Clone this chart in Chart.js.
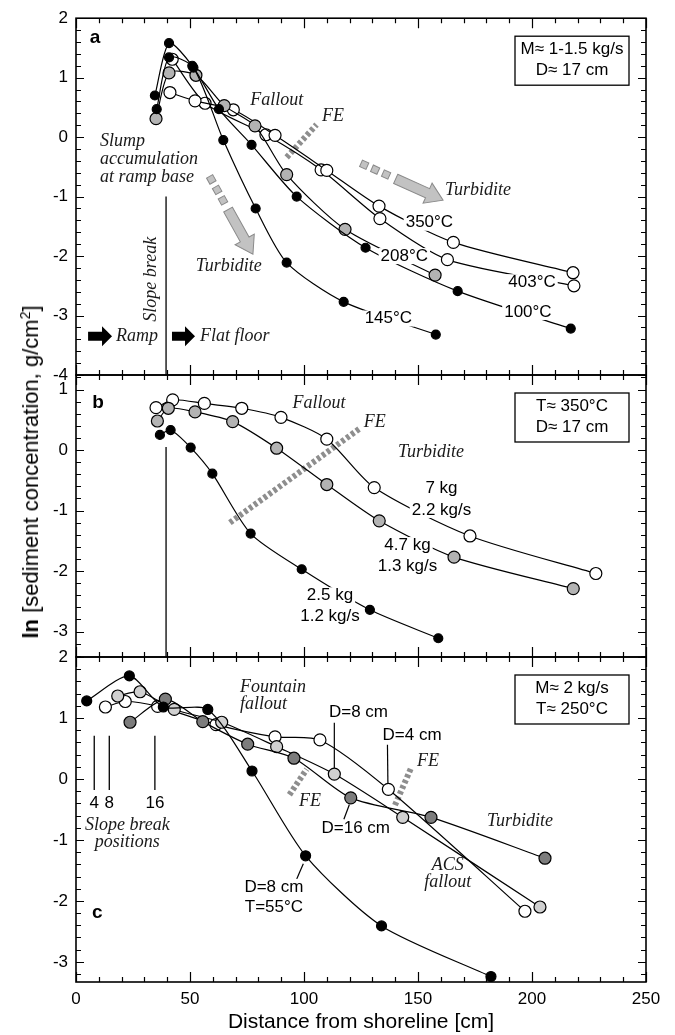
<!DOCTYPE html>
<html>
<head>
<meta charset="utf-8">
<script src="https://cdn.jsdelivr.net/npm/chart.js@4.4.1/dist/chart.umd.min.js"></script>
<style>
  html, body { margin: 0; padding: 0; background: #fff; }
  #wrap { position: relative; width: 675px; height: 1035px; overflow: hidden; background: #fff; }
  canvas { position: absolute; left: 0; }
  #ytitle {
    position: absolute; left: 31px; top: 472px;
    transform: translate(-50%, -50%) rotate(-90deg);
    font: 22px "Liberation Sans", Arial, sans-serif; white-space: nowrap; color: #000;
  }
  #ytitle sup { font-size: 14px; vertical-align: 8px; line-height: 0; }
</style>
</head>
<body>
<div id="wrap">
  <canvas id="pa" width="675" height="395" style="top:0px"></canvas>
  <canvas id="pb" width="675" height="322" style="top:355px"></canvas>
  <canvas id="pc" width="675" height="398" style="top:637px"></canvas>
  <div id="ytitle"><b>ln</b> [sediment concentration, g/cm<sup>2</sup>]</div>
</div>
<script>
const SANS = '"Liberation Sans", Arial, sans-serif';
const SERIF = '"Liberation Serif", "Times New Roman", serif';

// axis ticks
const xTicks = [0, 50, 100, 150, 200, 250];
const yTicksA = [2, 1, 0, -1, -2, -3, -4];
const yTicksB = [1, 0, -1, -2, -3];
const yTicksC = [2, 1, 0, -1, -2, -3];

// panel a : M ~ 1-1.5 kg/s, D ~ 17 cm
const a145x = [35.4, 40.8, 51.5, 64.6, 78.8, 92.4, 117.4, 157.8];
const a145y = [0.47, 1.34, 1.17, -0.05, -1.20, -2.11, -2.77, -3.32];
const a100x = [34.6, 40.8, 51.0, 62.7, 77.0, 96.8, 127.0, 167.4, 217.0];
const a100y = [0.70, 1.58, 1.20, 0.47, -0.13, -1.00, -1.86, -2.59, -3.22];
const a208x = [35.1, 40.8, 52.6, 65.0, 78.5, 92.4, 118.0, 157.5];
const a208y = [0.31, 1.08, 1.04, 0.53, 0.19, -0.63, -1.55, -2.32];
const a350x = [41.2, 52.2, 69.0, 87.3, 110.0, 132.9, 165.5, 218.0];
const a350y = [0.75, 0.61, 0.46, 0.03, -0.56, -1.16, -1.77, -2.28];
const a403x = [42.2, 56.6, 83.3, 107.5, 133.3, 162.9, 218.4];
const a403y = [1.31, 0.57, 0.04, -0.55, -1.37, -2.06, -2.50];

// panel b : T ~ 350 C, D ~ 17 cm
const b7x = [35.1, 42.4, 56.3, 72.7, 89.9, 110.0, 130.8, 172.8, 228.0];
const b7y = [0.70, 0.83, 0.77, 0.69, 0.54, 0.18, -0.62, -1.42, -2.04];
const b47x = [35.7, 40.5, 52.2, 68.7, 88.0, 110.0, 133.0, 165.8, 218.1];
const b47y = [0.48, 0.69, 0.63, 0.47, 0.03, -0.57, -1.17, -1.77, -2.29];
const b25x = [36.8, 41.5, 50.3, 59.8, 76.6, 99.0, 128.9, 158.9];
const b25y = [0.25, 0.33, 0.04, -0.39, -1.38, -1.97, -2.64, -3.11];

// panel c : M ~ 2 kg/s, T ~ 250 C
const c55x = [4.7, 23.4, 38.3, 57.8, 77.2, 100.7, 134.0, 182.0];
const c55y = [1.28, 1.69, 1.18, 1.14, 0.13, -1.26, -2.41, -3.24];
const c8x = [18.3, 28.1, 43.1, 63.9, 88.0, 113.3, 143.3, 203.5];
const c8y = [1.36, 1.43, 1.14, 0.93, 0.53, 0.08, -0.63, -2.10];
const c4x = [12.9, 21.6, 35.8, 61.4, 87.3, 107.0, 137.0, 196.9];
const c4y = [1.18, 1.27, 1.19, 0.89, 0.69, 0.64, -0.17, -2.17];
const c16x = [23.7, 39.2, 55.6, 75.3, 95.6, 120.5, 155.7, 205.7];
const c16y = [0.93, 1.31, 0.94, 0.57, 0.34, -0.31, -0.63, -1.30];

// slope break positions in panel c
const slopeBreakX = [8, 14.6, 34.6];
const slopeBreakLabels = ['4', '8', '16'];

// annotations, anchored in data coordinates
const decorations = {
  pa: {
    letter: {t: 'a', x: 8.3, y: 1.67},
    box: ['M\u2248 1-1.5 kg/s', 'D\u2248 17 cm'],
    italic: [
      {t: 'Fallout', x: 88, y: 0.62},
      {t: 'FE', x: 112.7, y: 0.35},
      {t: 'Slump', x: 10.5, y: -0.07, align: 'left'},
      {t: 'accumulation', x: 10.5, y: -0.38, align: 'left'},
      {t: 'at ramp base', x: 10.5, y: -0.68, align: 'left'},
      {t: 'Turbidite', x: 67, y: -2.17},
      {t: 'Turbidite', x: 161.8, y: -0.9, align: 'left'},
      {t: 'Ramp', x: 17.5, y: -3.35, align: 'left'},
      {t: 'Flat floor', x: 54.4, y: -3.35, align: 'left'}
    ],
    rotated: [{t: 'Slope break', x: 33.2, y: -2.39}],
    labels: [
      {t: ['350\u00b0C'], x: 155, y: [-1.44]},
      {t: ['208\u00b0C'], x: 144, y: [-2.0]},
      {t: ['403\u00b0C'], x: 200, y: [-2.44]},
      {t: ['100\u00b0C'], x: 198.2, y: [-2.94]},
      {t: ['145\u00b0C'], x: 137, y: [-3.05]}
    ],
    dashes: [[92.4, -0.34, 105.5, 0.21]],
    vlines: [[39.5, -1.0, -4]],
    turbArrows: [[58.6, -0.66, 77.6, -1.97], [125.0, -0.44, 161, -1.06]],
    blockArrows: [[5.3, 15.8, -3.35], [42.1, 52.2, -3.35]],
    leaders: []
  },
  pb: {
    letter: {t: 'b', x: 9.7, y: 0.78},
    box: ['T\u2248 350\u00b0C', 'D\u2248 17 cm'],
    italic: [
      {t: 'Fallout', x: 106.6, y: 0.78},
      {t: 'FE', x: 131, y: 0.46},
      {t: 'Turbidite', x: 155.7, y: -0.03}
    ],
    rotated: [],
    labels: [
      {t: ['7 kg', '2.2 kg/s'], x: 160.3, y: [-0.63, -0.99]},
      {t: ['4.7 kg', '1.3 kg/s'], x: 145.4, y: [-1.57, -1.92]},
      {t: ['2.5 kg', '1.2 kg/s'], x: 111.4, y: [-2.40, -2.74]}
    ],
    dashes: [[67.5, -1.2, 124.6, 0.36]],
    vlines: [[39.5, 0.05, -3.42]],
    turbArrows: [],
    blockArrows: [],
    leaders: []
  },
  pc: {
    letter: {t: 'c', x: 9.3, y: -2.19},
    box: ['M\u2248 2 kg/s', 'T\u2248 250\u00b0C'],
    italic: [
      {t: 'Fountain', x: 71.9, y: 1.5, align: 'left'},
      {t: 'fallout', x: 71.9, y: 1.22, align: 'left'},
      {t: 'FE', x: 102.6, y: -0.37},
      {t: 'FE', x: 154.4, y: 0.29},
      {t: 'Turbidite', x: 194.7, y: -0.70},
      {t: 'ACS', x: 163, y: -1.42},
      {t: 'fallout', x: 163, y: -1.70},
      {t: 'Slope break', x: 22.5, y: -0.76},
      {t: 'positions', x: 22.5, y: -1.04}
    ],
    rotated: [],
    labels: [
      {t: ['D=8 cm'], x: 123.9, y: [1.09]},
      {t: ['D=4 cm'], x: 147.4, y: [0.72]},
      {t: ['D=16 cm'], x: 122.7, y: [-0.81]},
      {t: ['D=8 cm', 'T=55\u00b0C'], x: 86.8, y: [-1.77, -2.10]}
    ],
    dashes: [[93.6, -0.26, 101.2, 0.16], [139.9, -0.43, 147.2, 0.20]],
    vlines: slopeBreakX.map(x => [x, 0.71, -0.18]),
    ticksText: slopeBreakX.map((x, i) => ({t: slopeBreakLabels[i], x: x, y: -0.40})),
    turbArrows: [],
    blockArrows: [],
    leaders: [[113.3, 0.92, 113.3, 0.18], [136.6, 0.56, 136.8, -0.07], [119.9, -0.42, 117.5, -0.66], [99.7, -1.39, 96.8, -1.64]]
  }
};

function drawTurbArrow(ctx, x0, y0, x1, y1) {
  const L = Math.hypot(x1 - x0, y1 - y0);
  ctx.save();
  ctx.translate(x0, y0);
  ctx.rotate(Math.atan2(y1 - y0, x1 - x0));
  ctx.fillStyle = '#c2c2c2';
  ctx.strokeStyle = '#8a8a8a';
  ctx.lineWidth = 1;
  for (let i = 0; i < 3; i++) {
    ctx.fillRect(i * 12, -3.5, 7, 7);
    ctx.strokeRect(i * 12, -3.5, 7, 7);
  }
  const s0 = 38, hl = 17, sw = 5, hw = 11;
  ctx.beginPath();
  ctx.moveTo(s0, -sw); ctx.lineTo(L - hl, -sw); ctx.lineTo(L - hl, -hw);
  ctx.lineTo(L, 0); ctx.lineTo(L - hl, hw); ctx.lineTo(L - hl, sw); ctx.lineTo(s0, sw);
  ctx.closePath();
  ctx.fill(); ctx.stroke();
  ctx.restore();
}

function drawBlockArrow(ctx, x0, x1, y) {
  const hl = 10, sw = 4.5, hw = 10;
  ctx.save();
  ctx.fillStyle = '#000';
  ctx.beginPath();
  ctx.moveTo(x0, y - sw); ctx.lineTo(x1 - hl, y - sw); ctx.lineTo(x1 - hl, y - hw);
  ctx.lineTo(x1, y); ctx.lineTo(x1 - hl, y + hw); ctx.lineTo(x1 - hl, y + sw); ctx.lineTo(x0, y + sw);
  ctx.closePath();
  ctx.fill();
  ctx.restore();
}

const decorPlugin = {
  id: 'decor',
  beforeDatasetsDraw(chart) {
    const d = decorations[chart.canvas.id];
    const ctx = chart.ctx;
    const X = v => chart.scales.x.getPixelForValue(v);
    const Y = v => chart.scales.y.getPixelForValue(v);
    ctx.save();
    // slope break lines
    ctx.strokeStyle = '#000';
    ctx.lineWidth = 1.3;
    d.vlines.forEach(([x, y0, y1]) => {
      ctx.beginPath();
      ctx.moveTo(X(x), Y(y0));
      ctx.lineTo(X(x), Y(y1));
      ctx.stroke();
    });
    // FE dashed lines
    ctx.strokeStyle = '#8e8e8e';
    ctx.lineWidth = 6;
    ctx.setLineDash([3.5, 2.5]);
    d.dashes.forEach(([x0, y0, x1, y1]) => {
      ctx.beginPath();
      ctx.moveTo(X(x0), Y(y0));
      ctx.lineTo(X(x1), Y(y1));
      ctx.stroke();
    });
    ctx.setLineDash([]);
    d.turbArrows.forEach(([x0, y0, x1, y1]) => drawTurbArrow(ctx, X(x0), Y(y0), X(x1), Y(y1)));
    d.blockArrows.forEach(([x0, x1, y]) => drawBlockArrow(ctx, X(x0), X(x1), Y(y)));
    ctx.restore();
  },
  afterDatasetsDraw(chart) {
    const d = decorations[chart.canvas.id];
    const ctx = chart.ctx;
    const a = chart.chartArea;
    const X = v => chart.scales.x.getPixelForValue(v);
    const Y = v => chart.scales.y.getPixelForValue(v);
    ctx.save();
    ctx.textBaseline = 'middle';

    // leader lines
    ctx.strokeStyle = '#000';
    ctx.lineWidth = 1.2;
    d.leaders.forEach(([x0, y0, x1, y1]) => {
      ctx.beginPath();
      ctx.moveTo(X(x0), Y(y0));
      ctx.lineTo(X(x1), Y(y1));
      ctx.stroke();
    });

    // curve labels, cut into the lines
    ctx.font = '17px ' + SANS;
    ctx.textAlign = 'center';
    d.labels.forEach(l => {
      l.t.forEach((t, i) => {
        const w = ctx.measureText(t).width;
        const px = X(l.x), py = Y(l.y[i]);
        ctx.fillStyle = '#fff';
        ctx.fillRect(px - w / 2 - 2, py - 8, w + 4, 16);
        ctx.fillStyle = '#000';
        ctx.fillText(t, px, py);
      });
    });
    (d.ticksText || []).forEach(l => ctx.fillText(l.t, X(l.x), Y(l.y)));

    // italic serif notes
    ctx.font = 'italic 18px ' + SERIF;
    ctx.fillStyle = '#1a1a1a';
    d.italic.forEach(l => {
      ctx.textAlign = l.align || 'center';
      ctx.fillText(l.t, X(l.x), Y(l.y));
    });
    d.rotated.forEach(l => {
      ctx.save();
      ctx.translate(X(l.x), Y(l.y));
      ctx.rotate(-Math.PI / 2);
      ctx.textAlign = 'center';
      ctx.fillText(l.t, 0, 0);
      ctx.restore();
    });

    // panel letter
    ctx.fillStyle = '#000';
    ctx.font = 'bold 19px ' + SANS;
    ctx.textAlign = 'center';
    ctx.fillText(d.letter.t, X(d.letter.x), Y(d.letter.y));

    // info box
    const bw = 114, bh = 49, bx = a.right - 17 - bw, by = a.top + 18;
    ctx.fillStyle = '#fff';
    ctx.fillRect(bx, by, bw, bh);
    ctx.strokeStyle = '#000';
    ctx.lineWidth = 1.3;
    ctx.strokeRect(bx, by, bw, bh);
    ctx.fillStyle = '#000';
    ctx.font = '17px ' + SANS;
    ctx.fillText(d.box[0], bx + bw / 2, by + 13);
    ctx.fillText(d.box[1], bx + bw / 2, by + 34);

    // frame and inward ticks
    ctx.lineWidth = 1.6;
    ctx.strokeRect(a.left, a.top, a.right - a.left, a.bottom - a.top);
    ctx.lineWidth = 1.2;
    ctx.beginPath();
    for (let v = 0; v <= 250; v += 10) {
      const p = Math.round(X(v)) + 0.5;
      const len = v % 50 === 0 ? 10 : 5;
      ctx.moveTo(p, a.top); ctx.lineTo(p, a.top + len);
      ctx.moveTo(p, a.bottom); ctx.lineTo(p, a.bottom - len);
    }
    const ys = chart.scales.y;
    const lo = Math.ceil(ys.min * 5 - 1e-6), hi = Math.floor(ys.max * 5 + 1e-6);
    for (let k = lo; k <= hi; k++) {
      const p = Math.round(Y(k / 5)) + 0.5;
      const len = k % 5 === 0 ? 8 : 5;
      ctx.moveTo(a.left, p); ctx.lineTo(a.left + len, p);
      ctx.moveTo(a.right, p); ctx.lineTo(a.right - len, p);
    }
    ctx.stroke();
    ctx.restore();
  }
};
Chart.register(decorPlugin);

function series(xs, ys, fill, r) {
  return {
    data: xs.map((x, i) => ({x: x, y: ys[i]})),
    borderColor: '#000',
    borderWidth: 1.2,
    pointBackgroundColor: fill,
    pointBorderColor: '#000',
    pointBorderWidth: 1.2,
    pointRadius: r,
    tension: 0.25,
    fill: false
  };
}

function makePanel(id, datasets, yMin, yMax, yTicks, padTop, padBottom, showX) {
  return new Chart(document.getElementById(id), {
    type: 'line',
    data: {datasets: datasets},
    options: {
      responsive: false,
      animation: false,
      events: [],
      layout: {padding: {left: 0, right: 29, top: padTop, bottom: padBottom}},
      plugins: {legend: {display: false}, tooltip: {enabled: false}},
      scales: {
        x: {
          type: 'linear', min: 0, max: 250, display: showX,
          grid: {display: false, drawTicks: false},
          border: {display: false},
          afterBuildTicks: s => { s.ticks = xTicks.map(v => ({value: v})); },
          afterFit: s => { s.height = showX ? 53 : 0; },
          ticks: {font: {family: SANS, size: 17}, color: '#000', padding: 7, maxRotation: 0, autoSkip: false},
          title: {display: showX, text: 'Distance from shoreline [cm]', font: {family: SANS, size: 21}, color: '#000', padding: {top: 0, bottom: 0}}
        },
        y: {
          type: 'linear', min: yMin, max: yMax,
          grid: {display: false, drawTicks: false},
          border: {display: false},
          afterBuildTicks: s => { s.ticks = yTicks.map(v => ({value: v})); },
          afterFit: s => { s.width = 76; },
          ticks: {font: {family: SANS, size: 17}, color: '#000', padding: 8}
        }
      }
    }
  });
}

makePanel('pa', [
  series(a145x, a145y, '#000', 4.5),
  series(a100x, a100y, '#000', 4.5),
  series(a208x, a208y, '#b3b3b3', 6),
  series(a350x, a350y, '#fff', 6),
  series(a403x, a403y, '#fff', 6)
], -4, 2, yTicksA, 13, 20, false);

makePanel('pb', [
  series(b25x, b25y, '#000', 4.5),
  series(b47x, b47y, '#b3b3b3', 6),
  series(b7x, b7y, '#fff', 6)
], -3.42, 1.24, yTicksB, 20, 20, false);

makePanel('pc', [
  series(c55x, c55y, '#000', 5),
  series(c16x, c16y, '#7c7c7c', 6),
  series(c8x, c8y, '#d0d0d0', 6),
  series(c4x, c4y, '#fff', 6)
], -3.33, 2, yTicksC, 20, 0, true);
</script>
</body>
</html>
